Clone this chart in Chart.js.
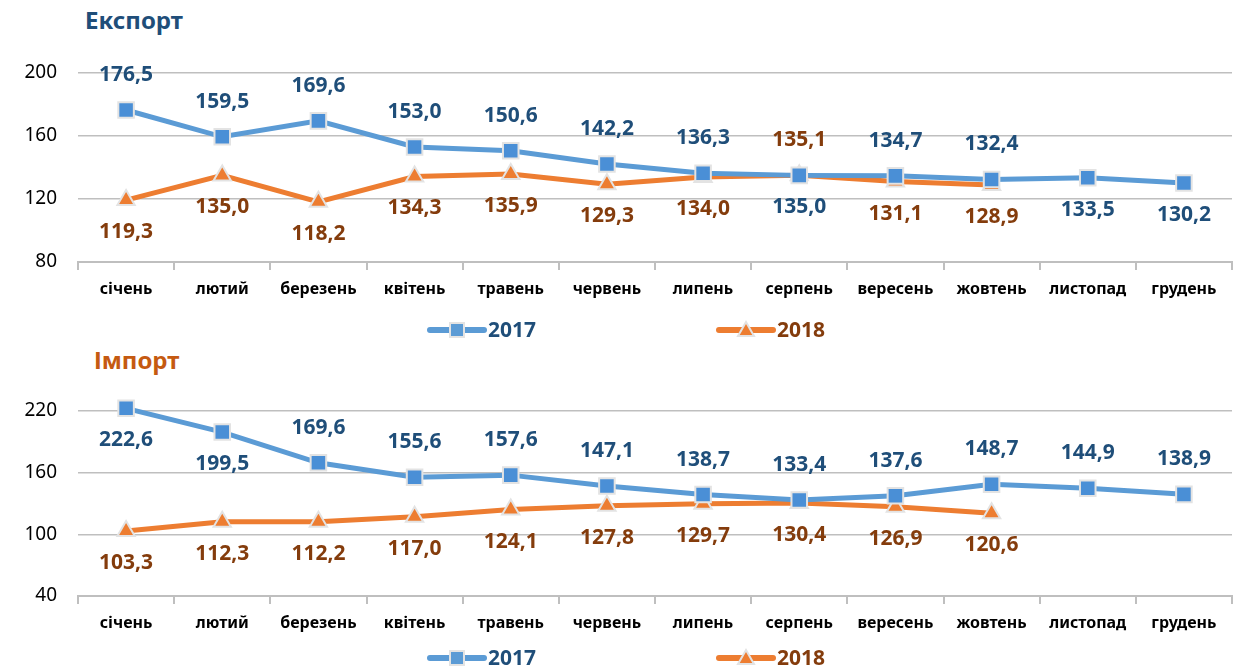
<!DOCTYPE html>
<html lang="uk">
<head>
    <meta charset="UTF-8">
    <title>Експорт / Імпорт</title>
    <style>
        body {
            margin: 0;
            width: 1248px;
            height: 670px;
            background: #fff;
            position: relative;
            overflow: hidden;
            font-family: "Noto Sans", sans-serif;
        }
        .box {
            position: absolute;
            left: 0;
            width: 1248px;
        }
        .title {
            position: absolute;
            font-weight: bold;
            font-size: 24px;
            line-height: 28px;
        }
    </style>
    <script src="https://cdn.jsdelivr.net/npm/chart.js"></script>
</head>
<body>
    <div class="title" style="left:85px; top:6px; color:#1F4E79;">Експорт</div>
    <div class="title" style="left:94px; top:346px; color:#C55A11;">Імпорт</div>
    <div class="box" style="top:0; height:345px;"><canvas id="exportChart" width="1248" height="345"></canvas></div>
    <div class="box" style="top:345px; height:325px;"><canvas id="importChart" width="1248" height="325"></canvas></div>

    <script>
        // Categories and values
        const months = ['січень', 'лютий', 'березень', 'квітень', 'травень', 'червень',
                        'липень', 'серпень', 'вересень', 'жовтень', 'листопад', 'грудень'];
        const seriesNames = ['2017', '2018'];

        const export2017 = [176.5, 159.5, 169.6, 153.0, 150.6, 142.2, 136.3, 135.0, 134.7, 132.4, 133.5, 130.2];
        const export2018 = [119.3, 135.0, 118.2, 134.3, 135.9, 129.3, 134.0, 135.1, 131.1, 128.9, null, null];
        const import2017 = [222.6, 199.5, 169.6, 155.6, 157.6, 147.1, 138.7, 133.4, 137.6, 148.7, 144.9, 138.9];
        const import2018 = [103.3, 112.3, 112.2, 117.0, 124.1, 127.8, 129.7, 130.4, 126.9, 120.6, null, null];

        const exportTicks = [80, 120, 160, 200];
        const importTicks = [40, 100, 160, 220];

        // label placement: 'a' above marker, 'b' below
        const exportPos2017 = ['a','a','a','a','a','a','a','b','a','a','b','b'];
        const exportPos2018 = ['b','b','b','b','b','b','b','a','b','b','b','b'];
        const importPos2017 = ['b','b','a','a','a','a','a','a','a','a','a','a'];
        const importPos2018 = ['b','b','b','b','b','b','b','b','b','b','b','b'];

        const BLUE = '#5B9BD5', ORANGE = '#ED7D31';
        const BLUE_TXT = '#1F4E79', BROWN_TXT = '#843C0C';
        const FONT = '"Noto Sans", sans-serif';

        // draws value labels next to points
        const valueLabels = {
            id: 'valueLabels',
            afterDatasetsDraw(chart) {
                const ctx = chart.ctx;
                ctx.save();
                ctx.font = 'bold 21px ' + FONT;
                ctx.textAlign = 'center';
                ctx.textBaseline = 'middle';
                chart.data.datasets.forEach((ds, i) => {
                    const meta = chart.getDatasetMeta(i);
                    ctx.fillStyle = ds.labelColor;
                    meta.data.forEach((pt, j) => {
                        const v = ds.data[j];
                        if (v === null) return;
                        const dy = ds.labelPos[j] === 'a' ? -35 : 32;
                        ctx.fillText(v.toFixed(1).replace('.', ','), pt.x, pt.y + dy);
                    });
                });
                ctx.restore();
            }
        };

        // legend: line with marker in the middle
        const lineLegend = {
            id: 'lineLegend',
            afterDraw(chart, args, opts) {
                const ctx = chart.ctx;
                const y = opts.y;
                const items = [
                    { x0: 430, color: BLUE, txt: BLUE_TXT, shape: 'rect' },
                    { x0: 719, color: ORANGE, txt: BROWN_TXT, shape: 'tri' }
                ];
                ctx.save();
                items.forEach((it, i) => {
                    ctx.strokeStyle = it.color;
                    ctx.lineWidth = 6;
                    ctx.lineCap = 'round';
                    ctx.beginPath();
                    ctx.moveTo(it.x0, y);
                    ctx.lineTo(it.x0 + 54, y);
                    ctx.stroke();
                    const cx = it.x0 + 27;
                    ctx.fillStyle = it.color;
                    ctx.strokeStyle = '#E3E3E3';
                    ctx.lineWidth = 2;
                    ctx.beginPath();
                    if (it.shape === 'rect') {
                        ctx.rect(cx - 7, y - 7, 14, 14);
                    } else {
                        ctx.moveTo(cx, y - 8);
                        ctx.lineTo(cx + 8, y + 6);
                        ctx.lineTo(cx - 8, y + 6);
                        ctx.closePath();
                    }
                    ctx.fill();
                    ctx.stroke();
                    ctx.fillStyle = it.txt;
                    ctx.font = 'bold 21px ' + FONT;
                    ctx.textAlign = 'left';
                    ctx.textBaseline = 'middle';
                    ctx.fillText(seriesNames[i], it.x0 + 58, y + 1);
                });
                ctx.restore();
            }
        };

        function makeChart(id, d2017, d2018, p2017, p2018, ticks, padTop, padBottom, legendY) {
            return new Chart(document.getElementById(id), {
                type: 'line',
                data: {
                    labels: months,
                    datasets: [
                        {
                            label: seriesNames[0], data: d2017, labelPos: p2017, labelColor: BLUE_TXT,
                            borderColor: BLUE, backgroundColor: BLUE, borderWidth: 5, clip: false,
                            pointStyle: 'rect', pointRadius: 11, pointBorderColor: '#E3E3E3',
                            pointBorderWidth: 2, pointBackgroundColor: '#4A8FD6', tension: 0
                        },
                        {
                            label: seriesNames[1], data: d2018, labelPos: p2018, labelColor: BROWN_TXT,
                            borderColor: ORANGE, backgroundColor: ORANGE, borderWidth: 5, clip: false,
                            pointStyle: 'triangle', pointRadius: 10, pointBorderColor: '#E3E3E3',
                            pointBorderWidth: 2, pointBackgroundColor: ORANGE, tension: 0
                        }
                    ]
                },
                options: {
                    responsive: false,
                    animation: false,
                    layout: { padding: { top: padTop, bottom: padBottom, left: 0, right: 16 } },
                    plugins: {
                        legend: { display: false },
                        tooltip: { enabled: false },
                        lineLegend: { y: legendY }
                    },
                    scales: {
                        x: {
                            offset: true,
                            grid: { offset: true, drawOnChartArea: false, tickLength: 8, color: '#BFBFBF', lineWidth: 2 },
                            border: { color: '#BFBFBF', width: 2 },
                            ticks: { color: '#000', padding: 10, font: { family: FONT, size: 16, weight: 'bold' }, maxRotation: 0 },
                            afterFit(s) { s.height = 45; }
                        },
                        y: {
                            min: ticks[0],
                            max: ticks[ticks.length - 1],
                            afterBuildTicks(s) { s.ticks = ticks.map(v => ({ value: v })); },
                            grid: { color: '#BFBFBF', lineWidth: 1.5, drawTicks: false },
                            border: { display: false },
                            ticks: { color: '#000', padding: 21, font: { family: FONT, size: 19 } },
                            afterFit(s) { s.width = 78; }
                        }
                    }
                },
                plugins: [valueLabels, lineLegend]
            });
        }

        makeChart('exportChart', export2017, export2018, exportPos2017, exportPos2018, exportTicks, 73, 38, 330);
        makeChart('importChart', import2017, import2018, importPos2017, importPos2018, importTicks, 66, 29, 313);
    </script>
</body>
</html>
